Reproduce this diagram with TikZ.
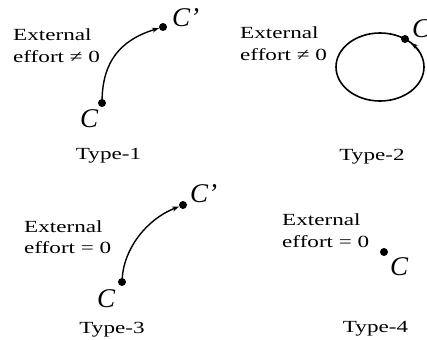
\documentclass[tikz,border=0pt]{standalone}
\usepackage{fontspec}
\setmainfont{Liberation Serif}
\usetikzlibrary{arrows.meta}
\newcommand\wtxt[1]{\scalebox{1.36}[1]{#1}}
\tikzset{
  lbl/.style={inner sep=0pt, anchor=base west, font=\fontsize{17}{20}\selectfont},
  typelbl/.style={inner sep=0pt, anchor=base, font=\fontsize{17}{20}\selectfont},
  ptlbl/.style={inner sep=0pt, anchor=base west, font=\fontsize{27}{27}\selectfont\itshape},
  dot/.style={circle, fill=black, inner sep=0pt, minimum size=8pt},
  conn/.style={line width=1.4pt, -{Stealth[length=7pt,width=5pt]}},
}
\begin{document}
\begin{tikzpicture}[x=1pt,y=-1pt]
\useasboundingbox (0,0) rectangle (427,339);
% Type-1
\node[lbl] (e1a) at (13,41) {\wtxt{External}};
\node[lbl] (e1b) at (13,63) {\wtxt{effort ≠ 0}};
\node[dot] (c1) at (102,103) {};
\node[dot] (c1p) at (163,27) {};
\node[ptlbl] (c1l) at (80,128) {C};
\node[ptlbl] (c1pl) at (172,27) {C’};
\draw[conn] (c1) .. controls (103,62) and (120,40) .. (c1p);
\node[typelbl] (t1) at (108.5,159) {\wtxt{Type-1}};
% Type-2
\node[lbl] (e2a) at (240,39) {\wtxt{External}};
\node[lbl] (e2b) at (240,61) {\wtxt{effort ≠ 0}};
\draw[line width=1.6pt] (380,67) ellipse[x radius=44, y radius=34];
\node[dot] (c2) at (405,39) {};
\draw[line width=1.4pt, -{Stealth[length=7pt,width=5pt]}] ([shift={(-25:44 and 34)}]380,67) coordinate (a2) arc[start angle=-25, end angle=-45, x radius=44, y radius=34];
\node[ptlbl] (c2l) at (412,38) {C};
\node[typelbl] (t2) at (372,160) {\wtxt{Type-2}};
% Type-3
\node[lbl] (e3a) at (24,232) {\wtxt{External}};
\node[lbl] (e3b) at (24,253) {\wtxt{effort = 0}};
\node[dot] (c3) at (122,282) {};
\node[dot] (c3p) at (183,205) {};
\node[ptlbl] (c3l) at (97,307) {C};
\node[ptlbl] (c3pl) at (190,202) {C’};
\draw[conn] (c3) .. controls (124,250) and (145,220) .. (c3p);
\node[typelbl] (t3) at (112,333) {\wtxt{Type-3}};
% Type-4
\node[lbl] (e4a) at (282,225) {\wtxt{External}};
\node[lbl] (e4b) at (282,247) {\wtxt{effort = 0}};
\node[dot] (c4) at (384,252) {};
\node[ptlbl] (c4l) at (390,275) {C};
\node[typelbl] (t4) at (375.5,332) {\wtxt{Type-4}};
\end{tikzpicture}
\end{document}
